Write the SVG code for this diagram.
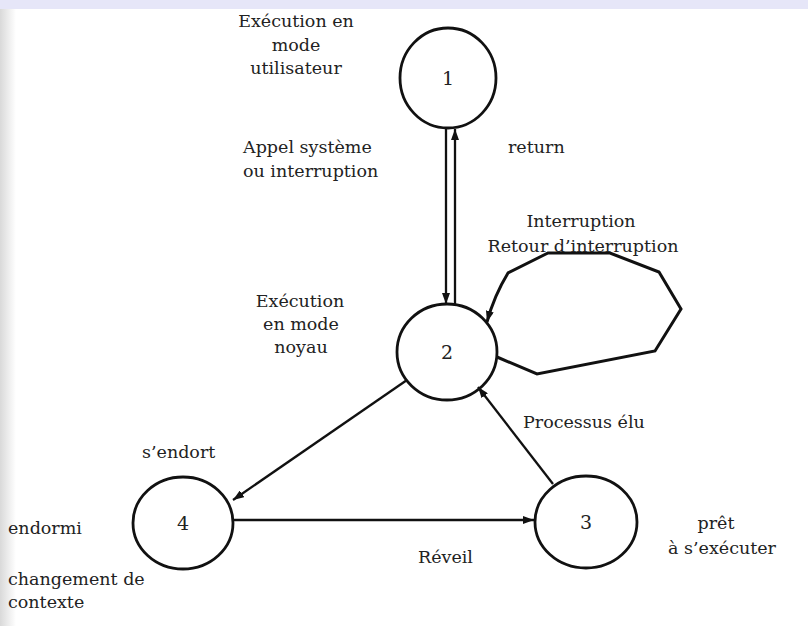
<svg xmlns="http://www.w3.org/2000/svg" width="808" height="626" viewBox="0 0 808 626">
  <defs>
    <linearGradient id="edge" x1="0" y1="0" x2="1" y2="0">
      <stop offset="0" stop-color="#d9d9d9"/>
      <stop offset="1" stop-color="#ffffff"/>
    </linearGradient>
    <marker id="head" viewBox="0 0 11 8" refX="11" refY="4" markerWidth="11" markerHeight="8" markerUnits="userSpaceOnUse" orient="auto">
      <path d="M0,0 L11,4 L0,8 Z" fill="#111"/>
    </marker>
  </defs>
  <style>
    .state { fill: none; stroke: #111; stroke-width: 2.8; }
    .num { font-family: "DejaVu Serif", "Liberation Serif", serif; font-size: 19px; fill: #222; text-anchor: middle; }
    .lbl { font-family: "DejaVu Serif", "Liberation Serif", serif; font-size: 17.5px; fill: #222; }
    .c { text-anchor: middle; }
    .edge { fill: none; stroke: #111; stroke-width: 2.3; marker-end: url(#head); }
    .loop { stroke-width: 3; stroke-linejoin: miter; }
  </style>

  <!-- page background with scanner margins -->
  <rect width="808" height="626" fill="#ffffff"/>
  <rect x="0" y="0" width="16" height="626" fill="url(#edge)"/>
  <rect x="0" y="0" width="808" height="9" fill="#e6e6f8"/>

  <!-- connectors -->
  <g id="connectors">
    <line class="edge" x1="446" y1="128" x2="446" y2="304"/>
    <line class="edge" x1="455" y1="304" x2="455" y2="129"/>
    <path class="edge loop" d="M497,357 L537,374 L655,351 L681,309 L659,272 L610,253 L548,253 L508,273 Q494,296 487,322"/>
    <line class="edge" x1="407" y1="380" x2="233" y2="500"/>
    <line class="edge" x1="233" y1="520" x2="534" y2="520"/>
    <line class="edge" x1="553" y1="484" x2="478" y2="387"/>
  </g>

  <g id="node1">
    <ellipse class="state" cx="448" cy="78" rx="48" ry="50"/>
    <text class="num" x="448" y="85">1</text>
  </g>
  <g id="node2">
    <ellipse class="state" cx="447" cy="352" rx="50" ry="48"/>
    <text class="num" x="447" y="359">2</text>
  </g>
  <g id="node3">
    <ellipse class="state" cx="586" cy="522" rx="51" ry="46"/>
    <text class="num" x="586" y="529">3</text>
  </g>
  <g id="node4">
    <ellipse class="state" cx="183" cy="523" rx="50" ry="46"/>
    <text class="num" x="183" y="530">4</text>
  </g>

  <!-- labels -->
  <g id="labels">
    <text class="lbl c" x="296" y="27">Exécution en</text>
    <text class="lbl c" x="296" y="51">mode</text>
    <text class="lbl c" x="296" y="74">utilisateur</text>

    <text class="lbl" x="243" y="153">Appel système</text>
    <text class="lbl" x="243" y="177">ou interruption</text>
    <text class="lbl" x="508" y="153">return</text>

    <text class="lbl c" x="581" y="227">Interruption</text>
    <text class="lbl c" x="583" y="252">Retour d’interruption</text>

    <text class="lbl c" x="300" y="307">Exécution</text>
    <text class="lbl c" x="301" y="330">en mode</text>
    <text class="lbl c" x="301" y="353">noyau</text>

    <text class="lbl" x="523" y="428">Processus élu</text>
    <text class="lbl" x="142" y="458">s’endort</text>

    <text class="lbl" x="8" y="534">endormi</text>
    <text class="lbl" x="8" y="585">changement de</text>
    <text class="lbl" x="8" y="608">contexte</text>

    <text class="lbl" x="418" y="563">Réveil</text>
    <text class="lbl c" x="716" y="529">prêt</text>
    <text class="lbl c" x="722" y="554">à s’exécuter</text>
  </g>
</svg>
